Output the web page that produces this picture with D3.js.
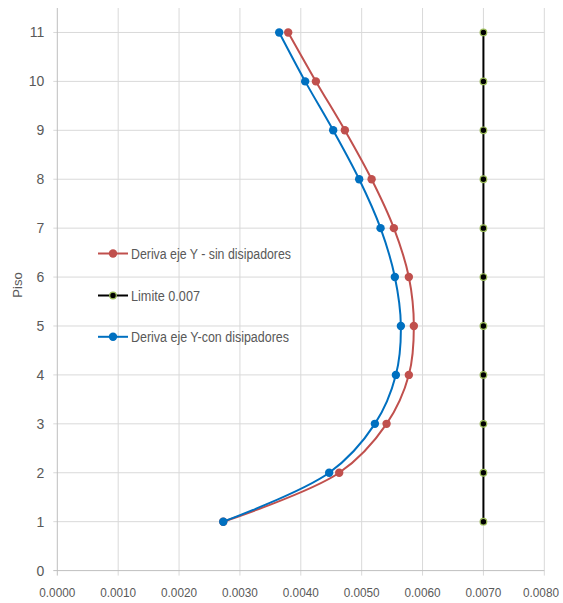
<!DOCTYPE html>
<html><head><meta charset="utf-8">
<script src="https://cdn.jsdelivr.net/npm/d3@7"></script>
<style>body{margin:0;background:#fff}</style>
</head><body>
<svg id="c" width="563" height="603"></svg>
<script>
const pisos = [1,2,3,4,5,6,7,8,9,10,11];
const sinDisipadores = [0.002726,0.004631,0.005409,0.005775,0.005857,0.005775,0.005529,0.005163,0.004724,0.004248,0.003793];
const conDisipadores = [0.002726,0.004466,0.005217,0.005562,0.005644,0.005545,0.005310,0.004959,0.004532,0.004072,0.003645];
const limite = [0.007,0.007,0.007,0.007,0.007,0.007,0.007,0.007,0.007,0.007,0.007];
const xTicks = [0,0.001,0.002,0.003,0.004,0.005,0.006,0.007,0.008];
const yTicks = [0,1,2,3,4,5,6,7,8,9,10,11];
const legendLabels = ["Deriva eje Y - sin disipadores","Limite 0.007","Deriva eje Y-con disipadores"];
const legendWidths = [160,69,158];
const yTitle = "Piso";

const svg = d3.select("#c");
const font = "'Liberation Sans',Arial,sans-serif";
const x = d3.scaleLinear().domain([0,0.008]).range([57.3,544.3]);
const y = d3.scaleLinear().domain([0,11.5]).range([570.6,8]);

// grid
svg.append("g").selectAll("line").data(xTicks.slice(1)).join("line")
  .attr("x1",d=>x(d)).attr("x2",d=>x(d)).attr("y1",y(11.5)).attr("y2",y(0)+5)
  .attr("stroke","#d9d9d9").attr("stroke-width",1);
svg.append("g").selectAll("line").data(yTicks.slice(1)).join("line")
  .attr("x1",x(0)-4).attr("x2",x(0.008)).attr("y1",d=>y(d)).attr("y2",d=>y(d))
  .attr("stroke","#d9d9d9").attr("stroke-width",1);
// axes lines
svg.append("line").attr("x1",x(0)).attr("x2",x(0)).attr("y1",y(11.5)).attr("y2",y(0)+5).attr("stroke","#bfbfbf");
svg.append("line").attr("x1",x(0)-4).attr("x2",x(0.008)).attr("y1",y(0)).attr("y2",y(0)).attr("stroke","#bfbfbf");

// tick labels
const lastX = xTicks[xTicks.length-1];
svg.append("g").selectAll("text").data(xTicks).join("text")
  .attr("x",d=>d===lastX?559:x(d)).attr("y",y(0)+26)
  .attr("text-anchor",d=>d===lastX?"end":"middle")
  .attr("font-family",font).attr("font-size",13).attr("fill","#595959")
  .attr("textLength",36).attr("lengthAdjust","spacingAndGlyphs")
  .text(d=>d3.format(".4f")(d));
svg.append("g").selectAll("text").data(yTicks).join("text")
  .attr("x",x(0)-13).attr("y",d=>y(d)+5).attr("text-anchor","end")
  .attr("font-family",font).attr("font-size",14).attr("fill","#595959")
  .text(d=>d);
svg.append("text").attr("transform",`translate(22,${285}) rotate(-90)`)
  .attr("text-anchor","middle").attr("font-family",font).attr("font-size",13)
  .attr("fill","#595959").text(yTitle);

const series = [
  {vals:sinDisipadores,color:"#c0504d",r:4.2,fill:"#c0504d",stroke:"none",curve:d3.curveCatmullRom.alpha(0.5),w:2},
  {vals:limite,color:"#000000",r:3.3,fill:"#000",stroke:"#9bbb59",curve:d3.curveLinear,w:2},
  {vals:conDisipadores,color:"#0070c0",r:4.2,fill:"#0070c0",stroke:"none",curve:d3.curveCatmullRom.alpha(0.5),w:2}
];
const drawOrder = [1,0,2];
drawOrder.forEach(i=>{
  const s = series[i];
  const pts = pisos.map((p,j)=>[s.vals[j],p]);
  const line = d3.line().x(d=>x(d[0])).y(d=>y(d[1])).curve(s.curve);
  svg.append("path").attr("d",line(pts)).attr("fill","none").attr("stroke",s.color).attr("stroke-width",s.w);
  svg.append("g").selectAll("circle").data(pts).join("circle")
    .attr("cx",d=>x(d[0])).attr("cy",d=>y(d[1])).attr("r",s.r)
    .attr("fill",s.fill).attr("stroke",s.stroke).attr("stroke-width",1.2);
});

// legend
const ly = [253.5,295.5,336.8];
series.forEach((s,i)=>{
  const g = svg.append("g");
  g.append("line").attr("x1",98).attr("x2",128).attr("y1",ly[i]).attr("y2",ly[i]).attr("stroke",s.color).attr("stroke-width",2);
  g.append("circle").attr("cx",113).attr("cy",ly[i]).attr("r",s.r).attr("fill",s.fill).attr("stroke",s.stroke).attr("stroke-width",1.2);
  g.append("text").attr("x",131).attr("y",ly[i]+5).attr("font-family",font).attr("font-size",14)
    .attr("textLength",legendWidths[i]).attr("lengthAdjust","spacingAndGlyphs")
    .attr("fill","#595959").text(legendLabels[i]);
});
</script>
</body></html>
